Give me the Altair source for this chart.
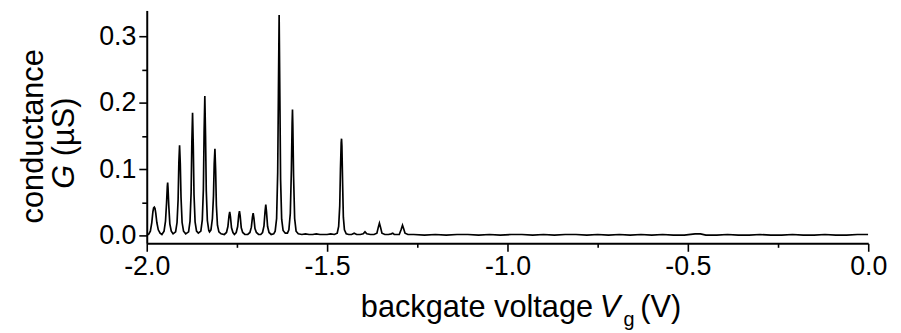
import altair as alt
import pandas as pd

# Trace: backgate voltage (V) and conductance (uS)
vg = [
    -2.000, -1.995,
    -1.990, -1.986, -1.983, -1.981, -1.979, -1.977, -1.975, -1.972, -1.968, -1.963, -1.958,
    -1.952, -1.948, -1.945, -1.943, -1.942, -1.941, -1.939, -1.936, -1.932, -1.927,
    -1.920, -1.916, -1.913, -1.911, -1.909, -1.907, -1.905, -1.902, -1.898, -1.892,
    -1.884, -1.880, -1.877, -1.875, -1.873, -1.871, -1.869, -1.866, -1.862, -1.857,
    -1.850, -1.846, -1.843, -1.841, -1.839, -1.837, -1.835, -1.832, -1.828, -1.826,
    -1.822, -1.818, -1.815, -1.813, -1.811, -1.809, -1.807, -1.804, -1.800, -1.794, -1.785,
    -1.779, -1.775, -1.772, -1.770, -1.768, -1.765, -1.761, -1.757,
    -1.752, -1.748, -1.745, -1.743, -1.741, -1.738, -1.734, -1.728, -1.720,
    -1.714, -1.710, -1.707, -1.705, -1.703, -1.700, -1.696, -1.690, -1.684,
    -1.679, -1.675, -1.672, -1.670, -1.668, -1.665, -1.661, -1.655, -1.648,
    -1.644, -1.640, -1.637, -1.635, -1.633, -1.631, -1.629, -1.626, -1.622, -1.616, -1.610,
    -1.606, -1.602, -1.599, -1.597, -1.596, -1.595, -1.593, -1.590, -1.586, -1.580,
    -1.570, -1.560, -1.550, -1.540, -1.530, -1.520, -1.510, -1.500, -1.490, -1.480, -1.472,
    -1.468, -1.465, -1.463, -1.461, -1.460, -1.459, -1.457, -1.455, -1.452, -1.447, -1.440,
    -1.432, -1.425, -1.418, -1.408, -1.400, -1.395, -1.390, -1.380, -1.370,
    -1.362, -1.358, -1.355, -1.352, -1.348, -1.340, -1.330, -1.322, -1.318, -1.314,
    -1.300, -1.295, -1.291, -1.288, -1.284, -1.276,
    -1.26, -1.23, -1.20, -1.17, -1.14, -1.11, -1.08, -1.05, -1.02, -0.99,
    -0.96, -0.93, -0.90, -0.87, -0.84, -0.81, -0.78, -0.75, -0.72, -0.69,
    -0.66, -0.63, -0.60, -0.57, -0.54, -0.51, -0.48, -0.465, -0.45, -0.42,
    -0.39, -0.36, -0.33, -0.30, -0.27, -0.24, -0.21, -0.18, -0.15, -0.12,
    -0.09, -0.06, -0.03, 0.00,
]
g = [
    0.002, 0.002,
    0.007, 0.020, 0.036, 0.042, 0.043, 0.041, 0.034, 0.020, 0.009, 0.004, 0.002,
    0.007, 0.022, 0.050, 0.074, 0.080, 0.072, 0.046, 0.018, 0.007, 0.003,
    0.006, 0.020, 0.055, 0.110, 0.136, 0.108, 0.058, 0.020, 0.007, 0.003,
    0.006, 0.022, 0.065, 0.140, 0.185, 0.135, 0.062, 0.021, 0.007, 0.004,
    0.007, 0.024, 0.070, 0.155, 0.210, 0.150, 0.068, 0.023, 0.008, 0.006,
    0.009, 0.026, 0.060, 0.108, 0.131, 0.098, 0.046, 0.016, 0.006, 0.003, 0.002,
    0.005, 0.014, 0.030, 0.036, 0.029, 0.012, 0.005, 0.002,
    0.005, 0.014, 0.031, 0.037, 0.030, 0.012, 0.005, 0.002, 0.002,
    0.005, 0.013, 0.028, 0.034, 0.027, 0.011, 0.005, 0.002, 0.002,
    0.005, 0.015, 0.037, 0.047, 0.036, 0.014, 0.005, 0.002, 0.003,
    0.007, 0.026, 0.095, 0.215, 0.332, 0.210, 0.085, 0.025, 0.008, 0.004, 0.004,
    0.009, 0.034, 0.100, 0.170, 0.190, 0.165, 0.090, 0.026, 0.007, 0.003,
    0.002, 0.003, 0.002, 0.002, 0.003, 0.002, 0.002, 0.002, 0.003, 0.002, 0.004,
    0.014, 0.045, 0.100, 0.140, 0.146, 0.135, 0.078, 0.028, 0.009, 0.003, 0.002,
    0.002, 0.004, 0.002, 0.002, 0.003, 0.006, 0.003, 0.002, 0.002,
    0.004, 0.013, 0.019, 0.013, 0.004, 0.002, 0.002, 0.003, 0.004, 0.002,
    0.002, 0.009, 0.016, 0.011, 0.004, 0.002,
    0.002, 0.001, 0.002, 0.001, 0.002, 0.002, 0.001, 0.002, 0.001, 0.002,
    0.002, 0.001, 0.002, 0.001, 0.002, 0.002, 0.001, 0.002, 0.001, 0.002,
    0.001, 0.002, 0.001, 0.002, 0.001, 0.001, 0.003, 0.003, 0.001, 0.001,
    0.002, 0.001, 0.001, 0.002, 0.001, 0.001, 0.002, 0.001, 0.001, 0.002,
    0.001, 0.001, 0.002, 0.002,
]

x_ticks = [-2.0, -1.75, -1.5, -1.25, -1.0, -0.75, -0.5, -0.25, 0.0]
y_ticks = [0.0, 0.05, 0.1, 0.15, 0.2, 0.25, 0.3]
y_title_1 = "conductance"
y_title_sym = "G"
y_title_unit = "(µS)"
x_title_text = "backgate voltage"
x_title_sym = "V"
x_title_sub = "g"
x_title_unit = "(V)"

FONT = "Liberation Sans"

df = pd.DataFrame({"vg": vg, "g": g})

line = alt.Chart(df).mark_line(color="black", strokeWidth=1.7, clip=True).encode(
    x=alt.X(
        "vg:Q",
        scale=alt.Scale(domain=[-2.0, 0.0], nice=False, zero=False),
        axis=alt.Axis(
            values=x_ticks,
            title=None,
            labelExpr="abs(round(datum.value*4)) % 2 == 1 ? '' : (datum.value < 0 ? '-' : '') + format(abs(datum.value), '.1f')",
            tickSize={"condition": {"test": "abs(round(datum.value*4)) % 2 == 1", "value": 4}, "value": 8},
            labelFlush=False,
            labelOverlap=False,
            labelPadding=2,
            grid=False,
        ),
    ),
    y=alt.Y(
        "g:Q",
        scale=alt.Scale(domain=[-0.0113, 0.3388], nice=False, zero=False),
        axis=alt.Axis(
            values=y_ticks,
            title=None,
            labelExpr="abs(round(datum.value*20)) % 2 == 1 ? '' : format(datum.value, '.1f')",
            tickSize={"condition": {"test": "abs(round(datum.value*20)) % 2 == 1", "value": 5}, "value": 8},
            labelFlush=False,
            labelOverlap=False,
            labelPadding=3,
            grid=False,
        ),
    ),
)


def label(txt, x, y, size, angle=0, align="left", style="normal", baseline="alphabetic"):
    kw = dict(font=FONT, fontSize=size, align=align, baseline=baseline,
              fontStyle=style, color="black")
    if angle:
        kw["angle"] = angle
    return alt.Chart(pd.DataFrame({"t": [txt]})).mark_text(**kw).encode(
        text="t:N", x=alt.value(x), y=alt.value(y)
    )


# Plot origin is at page (148, 9)
texts = [
    label(y_title_1, -105, 127, 31, angle=270, align="center"),
    label(y_title_sym, -73, 180, 31, angle=270, align="left", style="italic"),
    label(y_title_unit, -73, 147, 31, angle=270, align="left"),
    label(x_title_text, 216, 309, 31),
    label(x_title_sym, 457, 309, 31, style="italic"),
    label(x_title_sub, 481, 318, 20),
    label(x_title_unit, 498, 309, 31),
]

chart = alt.layer(line, *texts).properties(
    width=728,
    height=235,
    autosize=alt.AutoSizeParams(type="none"),
    padding={"left": 140, "top": 1, "right": 25, "bottom": 88},
).configure_view(stroke=None).configure_axis(
    domainColor="black",
    domainWidth=2,
    tickColor="black",
    tickWidth=1.6,
    labelColor="black",
    labelFont=FONT,
    labelFontSize=27,
)

chart.save("out.html", embed_options={"renderer": "svg", "actions": False})
